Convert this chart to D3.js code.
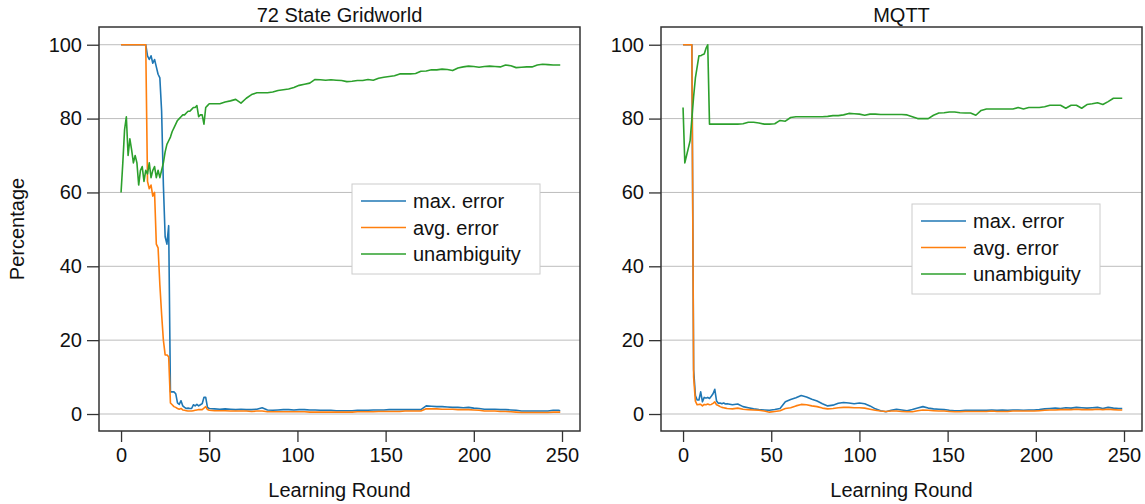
<!DOCTYPE html>
<html>
<head>
<meta charset="utf-8">
<script src="https://cdn.jsdelivr.net/npm/d3@7"></script>
<style>
  body { margin: 0; background: #fff; }
  svg { display: block; font-family: "Liberation Sans", Arial, Helvetica, sans-serif; }
</style>
</head>
<body>
<svg width="1145" height="504"></svg>
<script>
// ---- data: 72 State Gridworld ----
const gridRounds = [
  0,1,2,3,4,5,6,7,8,9,10,11,12,13,14,15,16,17,18,19,20,21,22,23,24,
  25,26,27,28,29,30,31,32,33,34,35,36,37,38,39,40,41,42,43,44,45,46,47,48,49,
  50,53,56,59,62,65,68,71,74,77,80,83,86,89,92,95,98,101,104,107,110,113,116,119,
  122,125,128,131,134,137,140,143,146,149,152,155,158,161,164,167,170,173,176,179,
  182,185,188,191,194,197,200,203,206,209,212,215,218,221,224,227,230,233,236,239,
  242,245,248,249
];
const gridMax = [
  100,100,100,100,100,100,100,100,100,100,100,100,100,100,100,97,96,97,95,96,94,92,91,82,62,
  48,46,51,6,6,6,5.5,3,2.6,3.6,2.2,1.8,1.5,1.6,1.5,1.5,2.5,2.2,2.6,2.2,2.5,2.8,4.5,4.5,1.8,
  1.5,1.4,1.3,1.4,1.3,1.2,1.3,1.2,1.2,1.3,1.7,1.1,1.0,1.1,1.2,1.2,1.1,1.2,1.2,1.1,1.1,1.0,1.0,1.0,
  0.9,0.9,0.9,0.9,1.0,1.0,1.0,1.1,1.1,1.1,1.2,1.2,1.2,1.2,1.2,1.2,1.2,2.2,2.1,2.0,
  2.0,1.9,1.8,1.8,1.7,1.8,1.6,1.5,1.3,1.3,1.3,1.2,1.2,1.1,1.0,0.8,0.8,0.8,0.8,0.8,
  0.8,1.0,1.0,0.9
];
const gridAvg = [
  100,100,100,100,100,100,100,100,100,100,100,100,100,100,100,63,61,62,59,60,46,45,35,27,20,
  16,16,15.5,3,2.5,2,1.8,1.5,1.3,1.5,1.1,1,0.9,0.8,0.8,0.8,0.9,1,1.1,1.2,1.2,1.2,1.6,2,1.2,
  1.0,0.9,0.9,0.9,0.8,0.8,0.8,0.8,0.7,0.8,0.8,0.6,0.6,0.6,0.6,0.6,0.6,0.6,0.6,0.5,0.5,0.5,0.5,0.5,
  0.5,0.5,0.5,0.5,0.6,0.6,0.6,0.6,0.7,0.7,0.7,0.7,0.7,0.8,0.8,0.8,0.8,1.4,1.4,1.4,
  1.3,1.3,1.3,1.2,1.2,1.2,1.1,1.0,0.8,0.8,0.8,0.7,0.7,0.6,0.5,0.4,0.4,0.4,0.4,0.4,
  0.4,0.5,0.5,0.5
];
const gridUnamb = [
  60,68,77,80.5,70,74.5,71.5,68,70,68,62,66,67,63,66,65,68,64,66,67,64,66,64,66,68,
  71,73,74,75,76.5,77.5,78.5,79.5,80,80.5,81,81,81.5,82,82,82.5,83,83,83.5,80.5,81,81,78.5,83,83.5,
  84,84,84,84.5,84.8,85.2,84.2,85.5,86.5,87,87,87,87.2,87.6,87.8,88,88.4,89,89.3,89.6,90.6,90.5,90.4,90.5,
  90.4,90.3,90,90.1,90.3,90.3,90.6,90.4,90.9,91.2,91.4,91.6,92.1,92.1,92.1,92.2,92.8,92.9,93.2,93.2,
  93.4,93.3,93,93.7,94,94.2,94.1,93.9,94.1,94.2,94.1,94,94.5,94.3,93.8,93.9,94,94,94.5,94.7,
  94.6,94.5,94.5,94.5
];

// ---- data: MQTT ----
const mqttRounds = [
  0,1,2,3,4,5,6,7,8,9,10,11,12,13,14,15,16,17,18,19,20,21,22,23,24,
  25,28,31,34,37,40,43,46,49,52,55,58,61,64,67,70,73,76,79,82,85,88,91,94,97,
  100,103,106,109,112,115,118,121,124,127,130,133,136,139,142,145,148,151,154,157,
  160,163,166,169,172,175,178,181,184,187,190,193,196,199,202,205,208,211,214,217,
  220,223,226,229,232,235,238,241,244,247,249
];
const mqttMax = [
  100,100,100,100,100,100,12,5,3.8,3.8,6,3.3,4.5,4.3,4.5,4.2,4.8,5.5,6.7,3.5,2.9,3.0,2.8,3.0,2.7,
  2.8,2.5,2.7,2.0,1.7,1.4,1.2,1.1,1.0,1.2,1.5,3.3,3.9,4.4,5.0,4.6,4.0,3.5,2.8,2.2,2.4,2.9,3.1,3.0,2.8,
  3.0,2.8,2.2,1.4,0.9,0.6,1.0,1.3,1.1,0.9,1.2,1.6,2.0,1.6,1.4,1.3,1.2,1.0,0.9,0.9,
  1.0,1.0,1.0,1.0,1.0,1.1,1.0,1.1,1.0,1.1,1.1,1.0,1.1,1.1,1.2,1.4,1.5,1.6,1.5,1.7,
  1.6,1.8,1.7,1.6,1.7,1.8,1.5,1.8,1.6,1.5,1.5
];
const mqttAvg = [
  100,100,100,100,100,100,10,3.5,2.5,2.6,2.6,2.2,2.6,2.5,2.7,2.5,2.6,2.9,3.3,2.5,2.3,2.0,1.8,1.7,1.6,
  1.5,1.4,1.6,1.3,1.2,1.1,1.0,0.8,0.5,0.7,0.9,1.5,1.7,2.2,2.6,2.5,2.2,2.0,1.6,1.4,1.5,1.7,1.8,1.8,1.7,
  1.7,1.6,1.3,1.0,0.8,0.7,0.8,0.8,0.7,0.6,0.6,0.9,1.1,1.0,0.9,0.8,0.8,0.7,0.6,0.6,
  0.7,0.7,0.7,0.7,0.7,0.8,0.7,0.7,0.7,0.8,0.8,0.8,0.8,0.8,0.9,1.0,1.1,1.1,1.2,1.2,
  1.2,1.3,1.2,1.2,1.2,1.3,1.2,1.3,1.2,1.1,1.1
];
const mqttUnamb = [
  83,68,70,72,74,80,86,91,94,97,97,97.3,97.5,99,100,78.5,78.5,78.5,78.5,78.5,78.5,78.5,78.5,78.5,78.5,
  78.5,78.5,78.5,78.6,79,79,78.8,78.5,78.5,78.6,79.5,79.3,80.3,80.5,80.5,80.5,80.5,80.5,80.5,80.6,80.8,80.8,81,81.4,81.3,
  81.2,80.9,81.2,81.2,81.1,81.1,81.1,81.1,81.1,81.0,80.5,80.0,80.0,80.0,80.9,81.5,81.6,81.8,81.8,81.6,
  81.5,81.5,80.9,82.2,82.6,82.6,82.6,82.6,82.6,82.6,83.0,82.6,83.0,83.0,83.0,83.2,83.6,83.6,83.6,82.8,
  83.6,83.6,82.8,83.8,84.0,84.3,83.8,84.6,85.5,85.5,85.5
];

const seriesNames = ["max. error", "avg. error", "unambiguity"];
const seriesColors = ["#1f77b4", "#ff7f0e", "#2ca02c"];
const xTicks = [0, 50, 100, 150, 200, 250];
const yTicks = [0, 20, 40, 60, 80, 100];

const panels = [
  { title: "72 State Gridworld", rounds: gridRounds, series: [gridMax, gridAvg, gridUnamb],
    left: 99, legend: [352, 184] },
  { title: "MQTT", rounds: mqttRounds, series: [mqttMax, mqttAvg, mqttUnamb],
    left: 661, legend: [912, 204] }
];

const svg = d3.select("svg");
const plotTop = 27, plotBottom = 431, pw = 481;
const fontSize = 20;

panels.forEach(p => {
  const x = d3.scaleLinear().domain([-12.5, 260.2]).range([p.left, p.left + pw]);
  const y = d3.scaleLinear().domain([-4.6, 104.8]).range([plotBottom, plotTop]);
  const g = svg.append("g");

  // grid
  g.selectAll("line.grid")
    .data(yTicks)
    .enter().append("line")
    .attr("x1", p.left).attr("x2", p.left + pw)
    .attr("y1", d => y(d)).attr("y2", d => y(d))
    .attr("stroke", "#bdbdbd").attr("stroke-width", 1);

  // lines
  const line = d3.line()
    .x((d, i) => x(p.rounds[i]))
    .y(d => y(d));
  p.series.forEach((s, k) => {
    g.append("path")
      .datum(s)
      .attr("d", line)
      .attr("fill", "none")
      .attr("stroke", seriesColors[k])
      .attr("stroke-width", 1.6)
      .attr("stroke-linejoin", "round");
  });

  // frame
  g.append("rect")
    .attr("x", p.left).attr("y", plotTop)
    .attr("width", pw).attr("height", plotBottom - plotTop)
    .attr("fill", "none").attr("stroke", "#333").attr("stroke-width", 1.5);

  // axes
  const ya = g.append("g")
    .attr("transform", `translate(${p.left},0)`)
    .call(d3.axisLeft(y).tickValues(yTicks).tickSize(12).tickPadding(5));
  const xa = g.append("g")
    .attr("transform", `translate(0,${plotBottom})`)
    .call(d3.axisBottom(x).tickValues(xTicks).tickSize(11).tickPadding(6));
  [ya, xa].forEach(a => {
    a.select(".domain").remove();
    a.selectAll(".tick line").attr("stroke", "#333").attr("stroke-width", 1.3);
    a.selectAll("text").attr("font-size", fontSize).attr("fill", "#111")
      .attr("font-family", "'Liberation Sans', Arial, sans-serif");
  });

  // title and x label
  g.append("text")
    .attr("x", p.left + pw / 2).attr("y", 22)
    .attr("text-anchor", "middle").attr("font-size", fontSize).attr("fill", "#111")
    .text(p.title);
  g.append("text")
    .attr("x", p.left + pw / 2).attr("y", 497)
    .attr("text-anchor", "middle").attr("font-size", fontSize).attr("fill", "#111")
    .text("Learning Round");

  // legend
  const [lx, ly] = p.legend;
  const lg = g.append("g").attr("transform", `translate(${lx},${ly})`);
  lg.append("rect")
    .attr("width", 188).attr("height", 90)
    .attr("fill", "#fff").attr("stroke", "#ccc").attr("stroke-width", 1);
  seriesNames.forEach((name, k) => {
    const ry = 17 + k * 26.5;
    lg.append("line")
      .attr("x1", 9).attr("x2", 54).attr("y1", ry).attr("y2", ry)
      .attr("stroke", seriesColors[k]).attr("stroke-width", 1.6);
    lg.append("text")
      .attr("x", 61).attr("y", ry + 7)
      .attr("font-size", fontSize).attr("fill", "#111")
      .text(name);
  });
});

svg.append("text")
  .attr("transform", "translate(24,229) rotate(-90)")
  .attr("text-anchor", "middle").attr("font-size", fontSize).attr("fill", "#111")
  .text("Percentage");
</script>
</body>
</html>
